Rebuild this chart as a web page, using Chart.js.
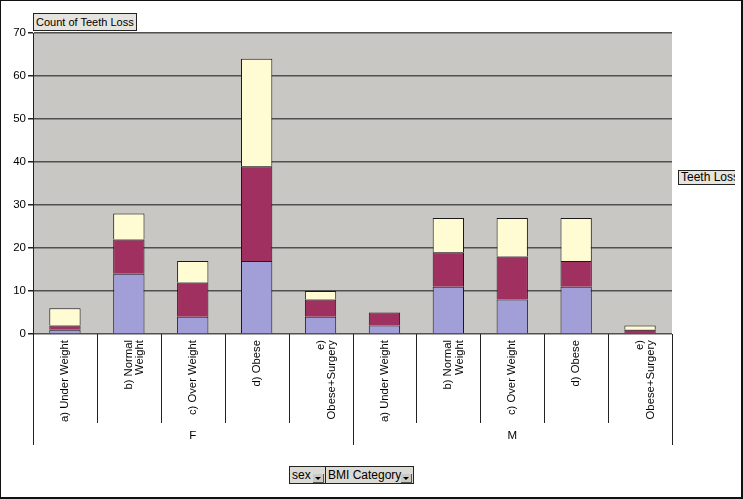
<!DOCTYPE html>
<html>
<head>
<meta charset="utf-8">
<script src="https://cdn.jsdelivr.net/npm/chart.js@4"></script>
<style>
    html, body { margin: 0; padding: 0; background: #fff; }
    #wrap { position: relative; width: 743px; height: 499px; overflow: hidden; font-family: "Liberation Sans", Arial, sans-serif; }
    #frame { position: absolute; left: 0; top: 0; border: 1px solid #111; border-right-width: 2px; border-bottom-width: 2px; box-sizing: border-box; width: 743px; height: 499px; pointer-events: none; }
    .fieldBox { position: absolute; background: #e6e4de; border: 1px solid #222; font-size: 11px; line-height: 16px; padding: 0 2px; color: #000; white-space: nowrap; }
    #seriesClip { position: absolute; left: 676px; top: 165px; width: 59px; height: 26px; overflow: hidden; }
    .btn { position: absolute; top: 466px; height: 18px; background: #dcdad4; border: 1px solid #222; box-sizing: border-box; font-size: 12px; line-height: 16px; padding-left: 2px; color: #000; }
    .arrow { position: absolute; top: 7px; width: 10px; height: 8px; background: #ccc9c2; border-right: 1px solid #555; border-bottom: 1px solid #555; }
    .arrow::after { content: ""; position: absolute; left: 2px; top: 3px; border-left: 3px solid transparent; border-right: 3px solid transparent; border-top: 3px solid #000; }
</style>
</head>
<body>
<div id="wrap">
    <canvas id="teethChart" width="743" height="499"></canvas>
    <div class="fieldBox" style="left:33px; top:13px;">Count of Teeth Loss</div>
    <div id="seriesClip"><div class="fieldBox" style="left:2px; top:5px; font-size:12px; line-height:13px;">Teeth Loss</div></div>
    <div class="btn" style="left:289px; width:37px;">sex<span class="arrow" style="left:23px;"></span></div>
    <div class="btn" style="left:325px; width:89px;">BMI Category<span class="arrow" style="left:75px;"></span></div>
    <div id="frame"></div>
</div>
<script>
// categories: BMI category within sex
const bmiLabels = [
    'a) Under Weight', ['b) Normal', 'Weight'], 'c) Over Weight', 'd) Obese', ['e)', 'Obese+Surgery'],
    'a) Under Weight', ['b) Normal', 'Weight'], 'c) Over Weight', 'd) Obese', ['e)', 'Obese+Surgery']
];
const sexGroups = ['F', 'M'];

// teeth loss levels (stacked, bottom to top)
const seriesNames = ['1', '2', '3'];
const loss1 = [1, 14, 4, 17, 4, 2, 11, 8, 11, 0];
const loss2 = [1, 8, 8, 22, 4, 3, 8, 10, 6, 1];
const loss3 = [4, 6, 5, 25, 2, 0, 8, 9, 10, 1];
const seriesColors = ['#a19ed8', '#a0305f', '#fffbd2'];

const yTicks = [0, 10, 20, 30, 40, 50, 60, 70];

// grey plot background + category separators under the axis
const plotDecor = {
    id: 'plotDecor',
    beforeDraw(chart) {
        const ctx = chart.ctx, a = chart.chartArea;
        ctx.save();
        ctx.fillStyle = '#c8c7c4';
        ctx.fillRect(a.left, a.top, a.right - a.left, a.bottom - a.top);
        ctx.restore();
    },
    afterDraw(chart) {
        const ctx = chart.ctx, x = chart.scales.x, x2 = chart.scales.x2;
        const n = bmiLabels.length;
        const step = (x.right - x.left) / n;
        ctx.save();
        ctx.strokeStyle = '#222';
        ctx.lineWidth = 1;
        for (let i = 0; i <= n; i++) {
            const px = Math.round(x.left + step * i) + 0.5;
            const isGroup = i % (n / sexGroups.length) === 0;
            ctx.beginPath();
            ctx.moveTo(px, x.top);
            ctx.lineTo(px, isGroup ? x2.bottom : x.bottom);
            ctx.stroke();
        }
        ctx.restore();
    }
};

const ctx = document.getElementById('teethChart').getContext('2d');
const datasets = [loss1, loss2, loss3].map((d, i) => ({
    label: seriesNames[i],
    data: d,
    backgroundColor: seriesColors[i],
    borderColor: '#1a1a1a',
    borderWidth: 1,
    barPercentage: 0.49,
    categoryPercentage: 1
}));

new Chart(ctx, {
    type: 'bar',
    data: { labels: bmiLabels, datasets: datasets },
    options: {
        responsive: false,
        animation: false,
        layout: { padding: { left: 0, top: 33, right: 71, bottom: 54 } },
        plugins: { legend: { display: false }, tooltip: { enabled: false } },
        scales: {
            x: {
                stacked: true,
                afterFit: s => { s.height = 89; },
                grid: { display: false, drawTicks: false, tickLength: 0 },
                border: { display: false },
                ticks: {
                    autoSkip: false, minRotation: 90, maxRotation: 90, padding: 6,
                    color: '#000', font: { family: '"Liberation Sans", Arial', size: 11.3, lineHeight: 1.0 }
                }
            },
            x2: {
                type: 'category',
                labels: sexGroups,
                offset: true,
                position: 'bottom',
                afterFit: s => { s.height = 22; },
                grid: { display: false, drawTicks: false, tickLength: 0 },
                border: { display: false },
                ticks: { padding: 6, color: '#000', font: { family: '"Liberation Sans", Arial', size: 11.5, lineHeight: 1.2 } }
            },
            y: {
                stacked: true,
                min: 0,
                max: 70,
                afterFit: s => { s.width = 33; },
                afterBuildTicks: s => { s.ticks = yTicks.map(v => ({ value: v })); },
                grid: { color: '#505050', lineWidth: 1.5, tickLength: 5, tickColor: '#222' },
                border: { color: '#222', width: 1 },
                ticks: { padding: 2, color: '#000', font: { family: '"Liberation Sans", Arial', size: 11.5 } }
            }
        }
    },
    plugins: [plotDecor]
});
</script>
</body>
</html>
